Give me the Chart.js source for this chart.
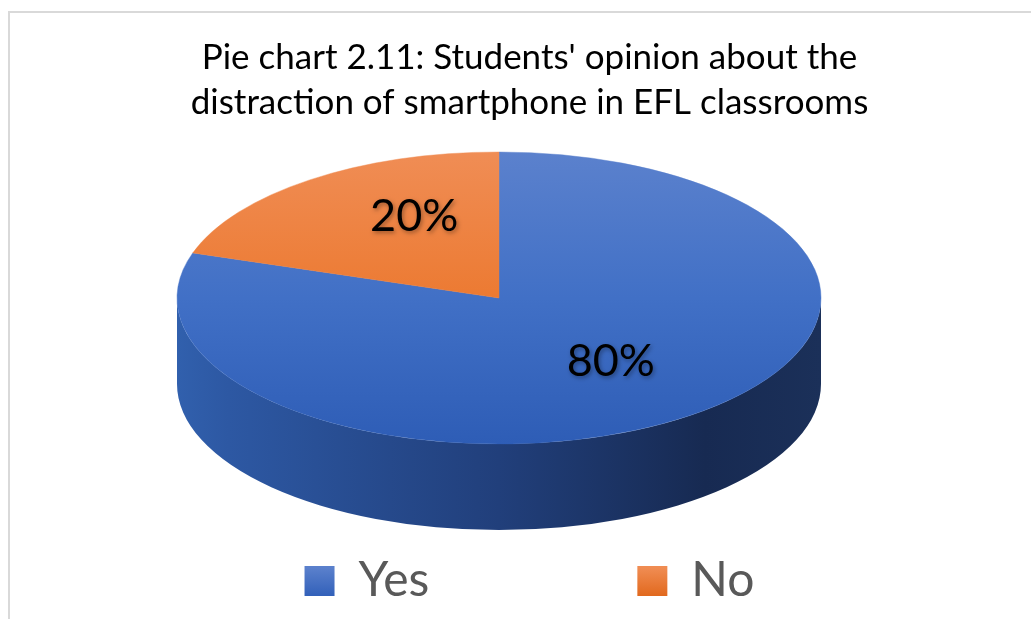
<!DOCTYPE html>
<html><head><meta charset="utf-8">
<script src="https://cdn.jsdelivr.net/npm/chart.js@4"></script>
<style>html,body{margin:0;padding:0;background:#fff;}#wrap{width:1031px;height:619px;position:relative;}</style>
</head><body><div id="wrap"><canvas id="c" width="1031" height="619"></canvas></div>
<script>
// ---- data ----
const categories = ['Yes', 'No'];
const percentages = [80, 20];
const valueLabels = ['80%', '20%'];
const titleLines = ["Pie chart 2.11: Students' opinion about the", "distraction of smartphone in EFL classrooms"];

// ---- styling / geometry ----
const PIE_R = 322, SQUASH = 146 / 322, CX = 499, CY = 298, DEPTH = 86;
const labelNudge = [[2, -5], [25, -13]];
const topStops = [
  [[0, '#5b81cd'], [0.5, '#4170c6'], [1, '#2e5db6']],
  [[0, '#f08d55'], [0.5, '#ec7a32'], [1, '#df6519']]
];
const sideStops = [
  [[0, '#3160ad'], [0.08, '#2d58a3'], [0.5, '#213f7b'], [0.82, '#172a52'], [1, '#1b3059']],
  [[0, '#b0561c'], [1, '#7a3a10']]
];

function visibleSegs(s, e) {
  const out = [];
  for (let k = -2; k <= 2; k++) {
    const lo = Math.max(s, 2 * Math.PI * k), hi = Math.min(e, Math.PI + 2 * Math.PI * k);
    if (hi > lo) out.push([lo - 2 * Math.PI * k, hi - 2 * Math.PI * k]);
  }
  return out;
}

const borderPlugin = {
  id: 'frame',
  beforeDraw(chart) {
    const ctx = chart.ctx;
    ctx.save();
    ctx.strokeStyle = '#d9d9d9';
    ctx.lineWidth = 2;
    ctx.strokeRect(9, 12, 1100, 700);
    ctx.restore();
  }
};

const pie3d = {
  id: 'pie3d',
  beforeDatasetsDraw(chart) {
    const ctx = chart.ctx;
    const meta = chart.getDatasetMeta(0);
    const a0 = meta.data[0];
    const R = a0.outerRadius, RY = R * SQUASH;
    meta.data.forEach((arc, i) => {
      visibleSegs(arc.startAngle, arc.endAngle).forEach(([a1, a2]) => {
        const g = ctx.createLinearGradient(CX - R, 0, CX + R, 0);
        sideStops[i].forEach(([p, c]) => g.addColorStop(p, c));
        ctx.beginPath();
        ctx.ellipse(CX, CY, R, RY, 0, a1, a2, false);
        ctx.ellipse(CX, CY + DEPTH, R, RY, 0, a2, a1, true);
        ctx.closePath();
        ctx.fillStyle = g;
        ctx.fill();
      });
    });
    ctx.save();
    ctx.translate(CX, CY);
    ctx.scale(1, SQUASH);
    ctx.translate(-a0.x, -a0.y);
  },
  afterDatasetsDraw(chart) {
    const ctx = chart.ctx;
    ctx.restore();
    const meta = chart.getDatasetMeta(0);
    ctx.save();
    ctx.font = '45px Lato';
    ctx.fillStyle = '#000';
    ctx.textAlign = 'center';
    ctx.textBaseline = 'middle';
    ctx.shadowColor = 'rgba(0,0,0,0.35)';
    ctx.shadowBlur = 4;
    ctx.shadowOffsetX = 1.5;
    ctx.shadowOffsetY = 1.5;
    meta.data.forEach((arc, i) => {
      const mid = (arc.startAngle + arc.endAngle) / 2;
      const r = arc.outerRadius * 0.58;
      ctx.fillText(valueLabels[i], CX + r * Math.cos(mid) + labelNudge[i][0], CY + r * Math.sin(mid) * SQUASH + labelNudge[i][1]);
    });
    ctx.restore();
  }
};

function topGradient(c) {
  const chart = c.chart;
  const i = c.dataIndex || 0;
  const area = chart.chartArea;
  if (!area) return topStops[i][1][1];
  const cy = (area.top + area.bottom) / 2;
  const g = chart.ctx.createLinearGradient(0, cy - PIE_R, 0, cy + PIE_R);
  topStops[i].forEach(([p, col]) => g.addColorStop(p, col));
  return g;
}

new Chart(document.getElementById('c'), {
  type: 'pie',
  data: {
    labels: categories,
    datasets: [{
      data: percentages,
      backgroundColor: topGradient,
      borderColor: topGradient,
      borderWidth: 0.6,
      radius: PIE_R
    }]
  },
  options: {
    responsive: false,
    animation: false,
    events: [],
    layout: { padding: { top: 35, left: 28, right: 0, bottom: 4 } },
    plugins: {
      tooltip: { enabled: false },
      title: {
        display: true,
        text: titleLines,
        color: '#000',
        font: { family: 'Lato', size: 35, weight: 'normal', lineHeight: 1.286 },
        padding: { top: 0, bottom: 0 }
      },
      legend: {
        position: 'bottom',
        labels: {
          color: '#595959',
          font: { family: 'Lato', size: 48 },
          boxWidth: 30,
          boxHeight: 30,
          padding: 208,
          generateLabels(chart) {
            const items = Chart.overrides.pie.plugins.legend.labels.generateLabels(chart);
            const cols = [['#5a80cc', '#2f5eb8'], ['#f08c52', '#e0661a']];
            items.forEach((it, i) => {
              const g = chart.ctx.createLinearGradient(0, 568, 0, 598);
              g.addColorStop(0, cols[i][0]);
              g.addColorStop(1, cols[i][1]);
              it.fillStyle = g;
              it.strokeStyle = 'rgba(0,0,0,0)';
              it.lineWidth = 0;
            });
            return items;
          }
        }
      }
    }
  },
  plugins: [borderPlugin, pie3d]
});
</script>
</body></html>
